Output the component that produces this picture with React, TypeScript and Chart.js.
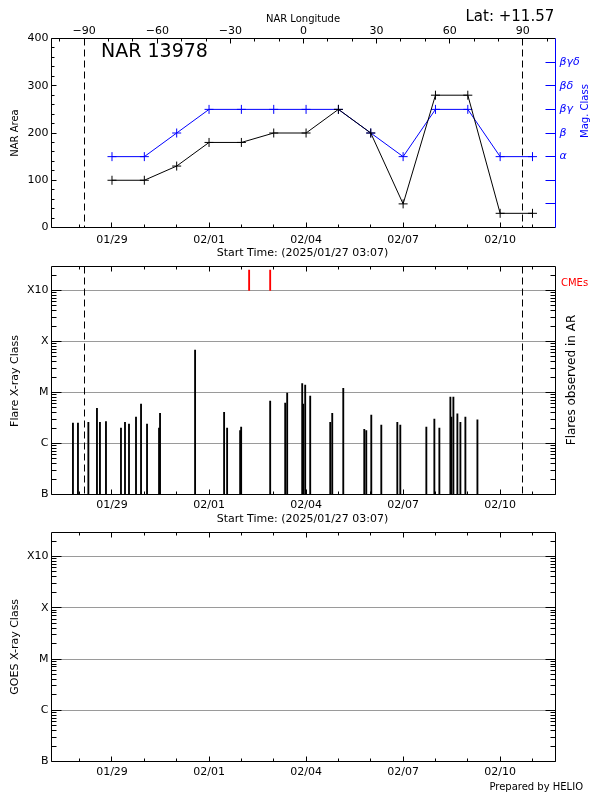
import React, { useEffect, useRef } from 'react';
import { Chart, registerables } from 'chart.js';

Chart.register(...registerables);

const FONT = '"DejaVu Sans", Verdana, sans-serif';
const BLUE = '#0000ff';
const RED = '#ff0000';
const GRID_GREY = '#9a9a9a';

// ---- data ----
const NAR_ID = '13978';
const LATITUDE = '+11.57';
const START_TIME = '01/27 03:07';
const END_TIME = '02/11 17:04';
const DATE_LABELS = ['01/29', '02/01', '02/04', '02/07', '02/10'];

const DAYS = ['01/29', '01/30', '01/31', '02/01', '02/02', '02/03', '02/04', '02/05', '02/06', '02/07', '02/08', '02/09', '02/10', '02/11'];
const NAR_AREA = [100, 100, 130, 180, 180, 200, 200, 250, 200, 50, 280, 280, 30, 30];
const MAG_LABELS = ['', '', 'α', 'β', 'βγ', 'βδ', 'βγδ'];
const MAG_CLASS = ['α', 'α', 'β', 'βγ', 'βγ', 'βγ', 'βγ', 'βγ', 'β', 'α', 'βγ', 'βγ', 'α', 'α'];
const AREA_TICKS = [0, 100, 200, 300, 400];
const LON_TICKS = [-90, -60, -30, 0, 30, 60, 90];
const LON_RANGE = [-103.4, 103.4];
const LIMB_LON = [-90, 90];

const FLARE_TIMES = [
  '01/27 19:02', '01/27 22:45', '01/28 06:28', '01/28 12:51', '01/28 15:04', '01/28 19:32',
  '01/29 06:40', '01/29 09:39', '01/29 12:37', '01/29 17:49', '01/29 21:33', '01/30 02:00',
  '01/30 10:55', '01/30 11:39', '01/31 13:39', '02/01 11:11', '02/01 13:25', '02/01 23:05',
  '02/01 23:50', '02/02 21:22', '02/03 08:31', '02/03 09:59', '02/03 21:08', '02/03 21:53',
  '02/03 23:21', '02/04 03:04', '02/04 17:56', '02/04 19:25', '02/05 03:36', '02/05 19:11',
  '02/05 20:40', '02/06 00:23', '02/06 07:49', '02/06 19:42', '02/06 21:55', '02/07 17:14',
  '02/07 23:11', '02/08 02:54', '02/08 11:04', '02/08 11:48', '02/08 13:18', '02/08 16:16',
  '02/08 18:30', '02/08 22:12', '02/09 07:08',
];
const FLARE_CLASSES = [
  'C2.5', 'C2.5', 'C2.6', 'C4.9', 'C2.6', 'C2.7',
  'C2.0', 'C2.6', 'C2.4', 'C3.3', 'C5.9', 'C2.4',
  'C2.0', 'C3.9', 'M6.8', 'C4.1', 'C2.0', 'C1.8',
  'C2.1', 'C6.8', 'C6.2', 'C9.7', 'M1.5', 'C5.9',
  'M1.4', 'C8.5', 'C2.6', 'C3.9', 'M1.2', 'C1.9',
  'C1.8', 'C3.6', 'C2.3', 'C2.6', 'C2.3', 'C2.1',
  'C3.0', 'C2.0', 'C8.1', 'C3.3', 'C8.1', 'C3.8',
  'C2.6', 'C3.3', 'C2.9',
];
const CME_TIMES = ['02/02 05:45', '02/02 21:22'];
const CME_MARK = ['X10', 'X25'];
const GOES_TIMES: string[] = [];
const GOES_CLASSES: string[] = [];
const CLASS_LABELS = ['B', 'C', 'M', 'X', 'X10'];
const CLASS_RANGE = ['B', 'X29.5'];

// ---- helpers ----
function toDay(s: string): number {
  const [md, hm = '00:00'] = s.split(' ');
  const [mo, dd] = md.split('/').map(Number);
  const [hh, mi] = hm.split(':').map(Number);
  return (Date.UTC(2025, mo - 1, dd, hh, mi) - Date.UTC(2025, 0, 27)) / 86400000;
}
function toFlux(c: string): number {
  const base: Record<string, number> = { A: 1e-8, B: 1e-7, C: 1e-6, M: 1e-5, X: 1e-4 };
  const n = c.slice(1);
  return base[c[0]] * (n === '' ? 1 : parseFloat(n));
}
const X_MIN = toDay(START_TIME);
const X_MAX = toDay(END_TIME);
const LABEL_DAYS = DATE_LABELS.map((d) => toDay(d));
const CLASS_TICKS = CLASS_LABELS.map(toFlux);
const Y_MIN = toFlux(CLASS_RANGE[0]);
const Y_MAX = toFlux(CLASS_RANGE[1]);

const fitW = (w: number) => (s: any) => {
  s.width = w; s.paddingTop = 0; s.paddingBottom = 0; s.paddingLeft = 0; s.paddingRight = 0;
};
const fitH = (h: number) => (s: any) => {
  s.height = h; s.paddingTop = 0; s.paddingBottom = 0; s.paddingLeft = 0; s.paddingRight = 0;
};
const al = (p: number) => Math.round(p - 0.5) + 0.5;

function seg(ctx: CanvasRenderingContext2D, x1: number, y1: number, x2: number, y2: number) {
  ctx.beginPath();
  ctx.moveTo(x1, y1);
  ctx.lineTo(x2, y2);
  ctx.stroke();
}
function text(ctx: CanvasRenderingContext2D, s: string, x: number, y: number, size: number, color = '#000', align: CanvasTextAlign = 'center', rot = false, base: CanvasTextBaseline = 'middle') {
  ctx.save();
  ctx.fillStyle = color;
  ctx.font = `${size}px ${FONT}`;
  ctx.textAlign = align;
  ctx.textBaseline = base;
  ctx.translate(x, y);
  if (rot) ctx.rotate(-Math.PI / 2);
  ctx.fillText(s, 0, 0);
  ctx.restore();
}
function dayTicks(ctx: CanvasRenderingContext2D, xs: any, a: any, top: boolean) {
  for (let d = Math.ceil(X_MIN); d <= Math.floor(X_MAX); d++) {
    const px = al(xs.getPixelForValue(d));
    const len = LABEL_DAYS.includes(d) ? 5 : 3;
    seg(ctx, px, a.bottom, px, a.bottom - len);
    if (top) seg(ctx, px, a.top, px, a.top + len);
  }
}
function logTicks(ctx: CanvasRenderingContext2D, ys: any, a: any) {
  for (let k = -7; k <= -3; k++) {
    for (let m = 1; m <= 9; m++) {
      const v = m * Math.pow(10, k);
      if (v > Y_MAX) continue;
      const py = al(ys.getPixelForValue(v));
      const len = m === 1 ? 10 : 5;
      seg(ctx, a.left, py, a.left + len, py);
      seg(ctx, a.right, py, a.right - len, py);
    }
  }
}
function frame(ctx: CanvasRenderingContext2D, a: any, rightColor = '#000') {
  ctx.strokeStyle = '#000';
  seg(ctx, a.left, a.top, a.left, a.bottom);
  seg(ctx, a.left, a.bottom, a.right, a.bottom);
  seg(ctx, a.left, a.top, a.right, a.top);
  ctx.strokeStyle = rightColor;
  seg(ctx, a.right, a.top, a.right, a.bottom);
  ctx.strokeStyle = '#000';
}
function limbLines(ctx: CanvasRenderingContext2D, lon: any, a: any) {
  ctx.save();
  ctx.setLineDash([7, 4]);
  LIMB_LON.forEach((l) => {
    const px = al(lon.getPixelForValue(l));
    seg(ctx, px, a.top, px, a.bottom);
  });
  ctx.restore();
}

const tickFont = { family: FONT, size: 11 };
const startLabel = `Start Time: (2025/${START_TIME})`;

function dayAxis(height: number, pad: number) {
  return {
    type: 'linear', position: 'bottom', min: X_MIN, max: X_MAX, offset: false,
    grid: { display: false, drawTicks: false, offset: false }, border: { display: false },
    afterBuildTicks: (s: any) => { s.ticks = LABEL_DAYS.map((v) => ({ value: v })); },
    afterFit: fitH(height),
    ticks: {
      autoSkip: false, maxRotation: 0, minRotation: 0, padding: pad, color: '#000', font: tickFont,
      callback: (v: number) => DATE_LABELS[LABEL_DAYS.indexOf(v)] ?? '',
    },
  };
}
function classAxis() {
  return {
    type: 'logarithmic', position: 'left', min: Y_MIN, max: Y_MAX, beginAtZero: false,
    grid: { display: true, color: GRID_GREY, lineWidth: 1, drawTicks: false }, border: { display: false },
    afterBuildTicks: (s: any) => { s.ticks = CLASS_TICKS.map((v) => ({ value: v })); },
    afterFit: fitW(51.5),
    ticks: {
      autoSkip: false, padding: 3, color: '#000', font: tickFont,
      callback: (v: number) => CLASS_LABELS[CLASS_TICKS.indexOf(v)] ?? '',
    },
  };
}
// longitude axis laid out with zero height (used for the limb lines)
const lonZero = {
  type: 'linear', position: 'top', min: LON_RANGE[0], max: LON_RANGE[1], offset: false,
  grid: { display: false, drawTicks: false }, border: { display: false },
  ticks: { display: false },
  afterFit: fitH(0),
};

function config1(): any {
  const area = DAYS.map((d, i) => ({ x: toDay(d), y: NAR_AREA[i] }));
  const mag = DAYS.map((d, i) => ({ x: toDay(d), y: MAG_LABELS.indexOf(MAG_CLASS[i]) }));
  const deco = {
    id: 'deco1',
    afterDraw(chart: any) {
      const { ctx, chartArea: a, scales } = chart;
      ctx.save();
      ctx.lineWidth = 1;
      frame(ctx, a, BLUE);
      dayTicks(ctx, scales.x, a, false);
      for (let v = 0; v <= 400; v += 20) {
        const py = al(scales.y.getPixelForValue(v));
        seg(ctx, a.left, py, a.left + (v % 100 === 0 ? 5 : 3), py);
      }
      for (let v = -100; v <= 100; v += 10) {
        const px = al(scales.lon.getPixelForValue(v));
        seg(ctx, px, a.top, px, a.top + (v % 30 === 0 ? 5 : 3));
      }
      ctx.strokeStyle = BLUE;
      for (let i = 0; i < MAG_LABELS.length; i++) {
        const py = al(scales.mag.getPixelForValue(i));
        seg(ctx, a.right, py, a.right - 10, py);
      }
      ctx.strokeStyle = '#000';
      limbLines(ctx, scales.lon, a);
      text(ctx, `NAR ${NAR_ID}`, 101, 57, 19, '#000', 'left', false, 'alphabetic');
      text(ctx, `Lat: ${LATITUDE}`, 465.5, 21, 15, '#000', 'left', false, 'alphabetic');
      text(ctx, 'NAR Longitude', 303, 19.5, 10);
      text(ctx, 'NAR Area', 15.5, 133, 10, '#000', 'center', true);
      text(ctx, 'Mag. Class', 585.8, 111, 10, BLUE, 'center', true);
      text(ctx, startLabel, 302.5, 253, 11);
      ctx.restore();
    },
  };
  const lineDs = (data: any[], color: string, yAxisID: string) => ({
    data, xAxisID: 'x', yAxisID, borderColor: color, backgroundColor: color, borderWidth: 1,
    pointStyle: 'cross', pointRadius: 4.5, pointBorderColor: color, pointBorderWidth: 1,
    fill: false, tension: 0,
  });
  return {
    type: 'line',
    data: { datasets: [lineDs(area, '#000', 'y'), lineDs(mag, BLUE, 'mag')] },
    options: {
      animation: false, responsive: false, events: [],
      plugins: { legend: { display: false }, tooltip: { enabled: false } },
      layout: { padding: 0 },
      scales: {
        x: dayAxis(34.5, 6),
        lon: {
          type: 'linear', position: 'top', min: LON_RANGE[0], max: LON_RANGE[1],
          grid: { display: false, drawTicks: false }, border: { display: false },
          afterBuildTicks: (s: any) => { s.ticks = LON_TICKS.map((v) => ({ value: v })); },
          afterFit: fitH(38.5),
          ticks: {
            autoSkip: false, maxRotation: 0, padding: 1.2, color: '#000', font: tickFont,
            callback: (v: number) => (v < 0 ? '\u2212' : '') + Math.abs(v),
          },
        },
        y: {
          type: 'linear', position: 'left', min: 0, max: 400,
          grid: { display: false, drawTicks: false }, border: { display: false },
          afterBuildTicks: (s: any) => { s.ticks = AREA_TICKS.map((v) => ({ value: v })); },
          afterFit: fitW(51.5),
          ticks: { autoSkip: false, padding: 3, color: '#000', font: tickFont },
        },
        mag: {
          type: 'linear', position: 'right', min: -1, max: MAG_LABELS.length,
          grid: { display: false, drawTicks: false }, border: { display: false },
          afterBuildTicks: (s: any) => { s.ticks = MAG_LABELS.map((_, i) => ({ value: i })); },
          afterFit: fitW(44.5),
          ticks: {
            autoSkip: false, padding: 4, color: BLUE, font: { family: FONT, size: 11, style: 'italic' },
            callback: (v: number) => MAG_LABELS[v] ?? '',
          },
        },
      },
    },
    plugins: [deco],
  };
}

function config2(): any {
  const flares = FLARE_TIMES.map((t, i) => ({ x: toDay(t), y: [Y_MIN, toFlux(FLARE_CLASSES[i])] }));
  const cmes = CME_TIMES.map((t) => ({ x: toDay(t), y: [toFlux(CME_MARK[0]), toFlux(CME_MARK[1])] }));
  const deco = {
    id: 'deco2',
    afterDraw(chart: any) {
      const { ctx, chartArea: a, scales } = chart;
      ctx.save();
      ctx.lineWidth = 1;
      frame(ctx, a);
      dayTicks(ctx, scales.x, a, true);
      logTicks(ctx, scales.y, a);
      limbLines(ctx, scales.lon, a);
      text(ctx, 'Flare X-ray Class', 15.5, 119, 11, '#000', 'center', true);
      text(ctx, 'Flares observed in AR', 571.5, 118, 12, '#000', 'center', true);
      text(ctx, 'CMEs', 561, 21, 10, RED, 'left');
      text(ctx, startLabel, 302.5, 257.5, 11);
      ctx.restore();
    },
  };
  const barDs = (data: any[], color: string) => ({
    data, backgroundColor: color, borderWidth: 0, barThickness: 1.2, grouped: false,
    xAxisID: 'x', yAxisID: 'y',
  });
  return {
    type: 'bar',
    data: { datasets: [barDs(flares, '#000'), barDs(cmes, RED)] },
    options: {
      animation: false, responsive: false, events: [],
      plugins: { legend: { display: false }, tooltip: { enabled: false } },
      layout: { padding: { top: 4.5, right: 44.5, left: 0, bottom: 0 } },
      scales: { x: dayAxis(33.5, 3.9), y: classAxis(), lon: lonZero },
    },
    plugins: [deco],
  };
}

function config3(): any {
  const goes = GOES_TIMES.map((t, i) => ({ x: toDay(t), y: toFlux(GOES_CLASSES[i]) }));
  const deco = {
    id: 'deco3',
    afterDraw(chart: any) {
      const { ctx, chartArea: a, scales } = chart;
      ctx.save();
      ctx.lineWidth = 1;
      frame(ctx, a);
      dayTicks(ctx, scales.x, a, true);
      logTicks(ctx, scales.y, a);
      text(ctx, 'GOES X-ray Class', 15.4, 118.8, 11, '#000', 'center', true);
      text(ctx, 'Prepared by HELIO', 583, 259, 10, '#000', 'right');
      ctx.restore();
    },
  };
  return {
    type: 'line',
    data: { datasets: [{ data: goes, borderColor: '#000', borderWidth: 1, pointRadius: 0 }] },
    options: {
      animation: false, responsive: false, events: [],
      plugins: { legend: { display: false }, tooltip: { enabled: false } },
      layout: { padding: { top: 4.5, right: 44.5, left: 0, bottom: 0 } },
      scales: { x: dayAxis(38.5, 4.4), y: classAxis() },
    },
    plugins: [deco],
  };
}

export default function App() {
  const r1 = useRef<HTMLCanvasElement>(null);
  const r2 = useRef<HTMLCanvasElement>(null);
  const r3 = useRef<HTMLCanvasElement>(null);
  useEffect(() => {
    const c1 = new Chart(r1.current!, config1());
    const c2 = new Chart(r2.current!, config2());
    const c3 = new Chart(r3.current!, config3());
    return () => { c1.destroy(); c2.destroy(); c3.destroy(); };
  }, []);
  const cs: React.CSSProperties = { position: 'absolute', left: 0, display: 'block' };
  return (
    <div style={{ position: 'absolute', left: 0, top: 0, width: 600, height: 800, background: '#fff' }}>
      <canvas ref={r1} width={600} height={262} style={{ ...cs, top: 0 }} />
      <canvas ref={r2} width={600} height={266} style={{ ...cs, top: 262 }} />
      <canvas ref={r3} width={600} height={272} style={{ ...cs, top: 528 }} />
    </div>
  );
}
